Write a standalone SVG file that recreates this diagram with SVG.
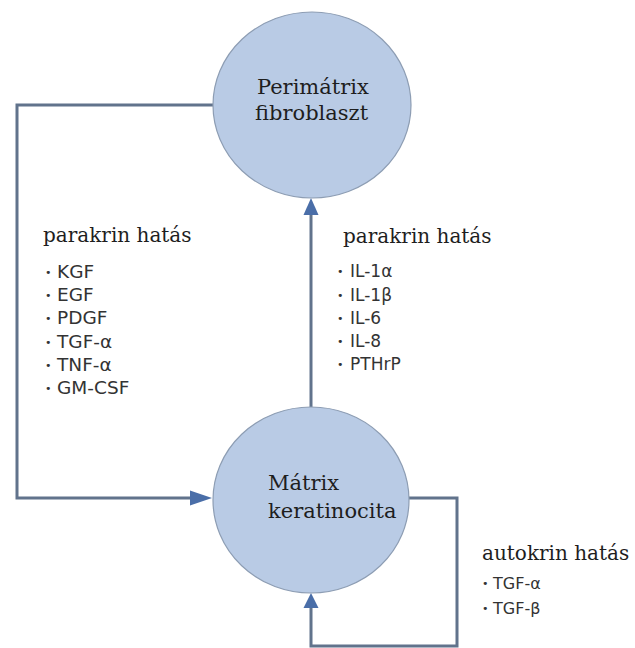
<svg xmlns="http://www.w3.org/2000/svg" width="635" height="648" viewBox="0 0 635 648">
<defs>
<style>
.node{fill:#b9cbe5;stroke:#8d9db3;stroke-width:1.2}
.ntxt{font-family:"DejaVu Serif","Liberation Serif",serif;font-size:21px;fill:#1e1e1e}
.head{font-family:"DejaVu Serif","Liberation Serif",serif;font-size:20px;fill:#1e1e1e}
.item{font-family:"DejaVu Sans","Liberation Sans",sans-serif;fill:#333}
.l{font-size:18.5px}
.r{font-size:17px}
.a{font-size:16px}
.bul{font-size:11px}
.con{fill:none;stroke:#61738c;stroke-width:3}
.ah{fill:#4a6ea8}
</style>
</defs>
<rect width="635" height="648" fill="#ffffff"/>
<g id="connectors">
<path class="con" d="M213,105 H17 V498 H192"/>
<polygon class="ah" points="212,498 190,490.5 190,505.5"/>
<path class="con" d="M311,407 V212"/>
<polygon class="ah" points="311,198 303.5,215 318.5,215"/>
<path class="con" d="M409,498 H457 V646 H311 V606"/>
<polygon class="ah" points="311,593 303.5,608 318.5,608"/>
</g>
<g id="perimatrix">
<ellipse class="node" cx="312" cy="105" rx="99" ry="93"/>
<text class="ntxt" x="257" y="94">Perimátrix</text>
<text class="ntxt" x="255" y="120">fibroblaszt</text>
</g>
<g id="matrix">
<ellipse class="node" cx="311" cy="500" rx="98" ry="93"/>
<text class="ntxt" x="268" y="490">Mátrix</text>
<text class="ntxt" x="268" y="518">keratinocita</text>
</g>
<g id="label-left">
<text class="head" x="43" y="242">parakrin hatás</text>
<text class="item l"><tspan class="bul" x="45" y="276">•</tspan><tspan x="57" y="278">KGF</tspan></text>
<text class="item l"><tspan class="bul" x="45" y="299">•</tspan><tspan x="57" y="301">EGF</tspan></text>
<text class="item l"><tspan class="bul" x="45" y="322">•</tspan><tspan x="57" y="324">PDGF</tspan></text>
<text class="item l"><tspan class="bul" x="45" y="346">•</tspan><tspan x="57" y="348">TGF-α</tspan></text>
<text class="item l"><tspan class="bul" x="45" y="369">•</tspan><tspan x="57" y="371">TNF-α</tspan></text>
<text class="item l"><tspan class="bul" x="45" y="392">•</tspan><tspan x="57" y="394">GM-CSF</tspan></text>
</g>
<g id="label-right">
<text class="head" x="343" y="243">parakrin hatás</text>
<text class="item r"><tspan class="bul" x="337" y="275">•</tspan><tspan x="350" y="277">IL-1α</tspan></text>
<text class="item r"><tspan class="bul" x="337" y="299">•</tspan><tspan x="350" y="301">IL-1β</tspan></text>
<text class="item r"><tspan class="bul" x="337" y="322">•</tspan><tspan x="350" y="324">IL-6</tspan></text>
<text class="item r"><tspan class="bul" x="337" y="345">•</tspan><tspan x="350" y="347">IL-8</tspan></text>
<text class="item r"><tspan class="bul" x="337" y="368">•</tspan><tspan x="350" y="370">PTHrP</tspan></text>
</g>
<g id="label-auto">
<text class="head" x="482" y="560">autokrin hatás</text>
<text class="item a"><tspan class="bul" x="482" y="587">•</tspan><tspan x="493" y="589">TGF-α</tspan></text>
<text class="item a"><tspan class="bul" x="482" y="612">•</tspan><tspan x="493" y="614">TGF-β</tspan></text>
</g>
</svg>
